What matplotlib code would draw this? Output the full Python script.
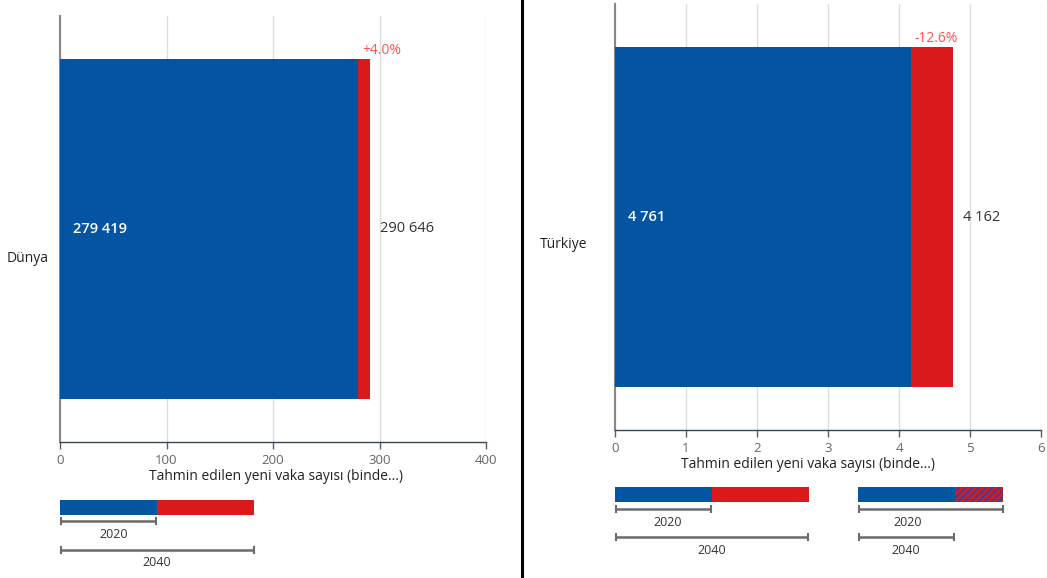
import matplotlib.pyplot as plt
from matplotlib.patches import Rectangle
from matplotlib.transforms import ScaledTranslation

# data
regions = ["Dünya", "Türkiye"]
bar_blue = [279.419, 4.162]     # blue segment ends here
bar_red = [290.646, 4.761]      # red segment ends here
inside_labels = ["279 419", "4 761"]
outside_labels = ["290 646", "4 162"]
pct_labels = ["+4.0%", "-12.6%"]
x_limits = [400, 6]
x_ticks = [[0, 100, 200, 300, 400], [0, 1, 2, 3, 4, 5, 6]]
xlabel = "Tahmin edilen yeni vaka sayısı (binde...)"

BLUE = "#0455a1"
RED = "#da1a1a"
W, H = 1047, 578

plt.rcParams['font.family'] = ['Open Sans', 'DejaVu Sans']
plt.rcParams['hatch.linewidth'] = 1.6

fig = plt.figure(figsize=(W / 100, H / 100), dpi=100)

# axes boxes in pixels: left, top, right, bottom
boxes = [(60, 16, 486, 442), (615, 4, 1041, 430)]
label_drop = [27, 25]          # category label offset down (px)
label_pad = [8, 20]            # category label gap (pt)
pct_shift = [12, -17]          # percent label offset from red end (px)
xlabel_x = [0.507, 0.453]

for i in range(2):
    l, t, r, b = boxes[i]
    ax = fig.add_axes([l / W, (H - b) / H, (r - l) / W, (b - t) / H])
    ax.set_xlim(0, x_limits[i])
    ax.set_ylim(-0.5, 0.5)
    ax.barh([0], [bar_red[i]], height=0.8, color=RED, zorder=2)
    ax.barh([0], [bar_blue[i]], height=0.8, color=BLUE, zorder=3)

    ax.set_xticks(x_ticks[i])
    ax.set_xticklabels([str(v) for v in x_ticks[i]])
    ax.tick_params(axis='x', colors='#55606e', labelcolor='#666666', labelsize=9.5,
                   length=5, width=1, pad=4)
    ax.grid(axis='x', color='#dddddd', lw=1, zorder=0)
    ax.set_yticks([0])
    ax.set_yticklabels([regions[i]], fontsize=10, color='#222222')
    ax.tick_params(axis='y', length=0, pad=label_pad[i])
    off = ScaledTranslation(0, -label_drop[i] / 100, fig.dpi_scale_trans)
    for lab in ax.get_yticklabels():
        lab.set_transform(lab.get_transform() + off)

    for s in ['top', 'right']:
        ax.spines[s].set_visible(False)
    ax.spines['left'].set_color('#888888')
    ax.spines['left'].set_linewidth(1.5)
    ax.spines['bottom'].set_color('#3a4656')
    ax.spines['bottom'].set_linewidth(1)

    ax.set_xlabel(xlabel, fontsize=10, color='#222222')
    ax.xaxis.set_label_coords(xlabel_x[i], -0.082)
    ax.xaxis.label.set_va('center')

    ax.annotate(inside_labels[i], (0, 0), xytext=(13, 0), textcoords='offset pixels',
                ha='left', va='center', color='white', fontsize=10.5,
                fontweight='semibold', zorder=5)
    ax.annotate(outside_labels[i], (bar_red[i], 0), xytext=(10, 0), textcoords='offset pixels',
                ha='left', va='center', color='#333333', fontsize=10.5, zorder=5)
    ax.annotate(pct_labels[i], (bar_red[i], 0.4), xytext=(pct_shift[i], 1), textcoords='offset pixels',
                ha='center', va='bottom', color='#ff5252', fontsize=10, zorder=5)

# overlay for divider and legends (pixel coordinates)
ov = fig.add_axes([0, 0, 1, 1], zorder=-1)
ov.set_xlim(0, W)
ov.set_ylim(H, 0)
ov.axis('off')
ov.plot([522, 522], [0, H], color='black', lw=2.2)

def bracket(x0, x1, y):
    ov.plot([x0, x1], [y, y], color='#6b6b6b', lw=1.8, solid_capstyle='butt')
    ov.plot([x0, x0], [y - 3, y + 3], color='#6b6b6b', lw=1.5)
    ov.plot([x1, x1], [y - 3, y + 3], color='#6b6b6b', lw=1.5)

def legend(x, y, w_blue, w_red, hatched, b2020, b2040, tx2020, tx2040, ty):
    ov.add_patch(Rectangle((x, y), w_blue, 15, facecolor=BLUE, edgecolor='none'))
    if hatched:
        ov.add_patch(Rectangle((x + w_blue, y), w_red, 15, facecolor=RED,
                               edgecolor='#4b3a8c', hatch='/////', lw=0))
    else:
        ov.add_patch(Rectangle((x + w_blue, y), w_red, 15, facecolor=RED, edgecolor='none'))
    bracket(x + 1, x + b2020, ty[0])
    ov.text(tx2020, ty[0] + 13, "2020", ha='center', va='center', fontsize=9, color='#333333')
    bracket(x + 1, x + b2040, ty[1])
    ov.text(tx2040, ty[1] + 13, "2040", ha='center', va='center', fontsize=9, color='#333333')

legend(60, 500, 97, 97, False, 96, 194, 114, 157, (521, 550))
legend(615, 487, 97, 97, False, 96, 193, 668, 712, (509, 537))
legend(858, 487, 97, 48, True, 145, 96, 908, 906, (509, 537))

fig.savefig("out.png", dpi=100)
